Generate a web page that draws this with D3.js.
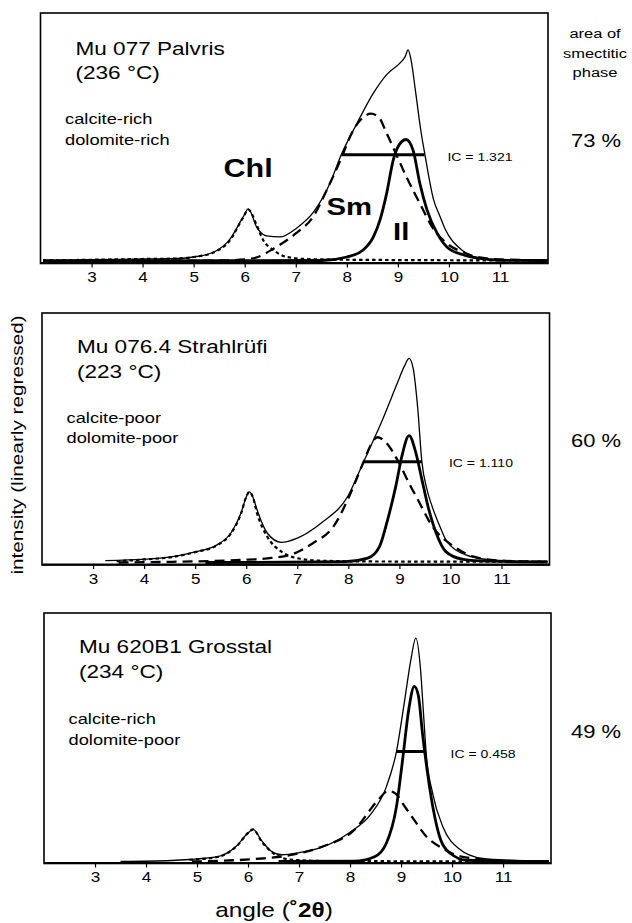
<!DOCTYPE html>
<html>
<head>
<meta charset="utf-8">
<script src="https://cdn.jsdelivr.net/npm/d3@7"></script>
<style>
  body { margin: 0; background: #fff; }
  svg { display: block; font-family: "Liberation Sans", Arial, sans-serif; }
</style>
</head>
<body>
<svg id="chart" width="632" height="923"></svg>
<script>
// ---- data ----
const angleTicks = [3, 4, 5, 6, 7, 8, 9, 10, 11];
const samples = ["Mu 077 Palvris", "Mu 076.4 Strahlrüfi", "Mu 620B1 Grosstal"];
const temps = ["(236 °C)", "(223 °C)", "(234 °C)"];
const calcite = ["calcite-rich", "calcite-poor", "calcite-rich"];
const dolomite = ["dolomite-rich", "dolomite-poor", "dolomite-poor"];
const icValues = ["1.321", "1.110", "0.458"];
const smectiteArea = ["73 %", "60 %", "49 %"];
// [start angle, end angle, intensity] of the half-height bar
const fwhmBars = [[7.89, 9.52, 43.4], [8.3, 9.44, 41], [8.91, 9.49, 44.7]];

// [angle °2θ, intensity] — measured pattern and fitted peaks
const measured077 = [[2.05,1.3],[3,1.5],[4,1.8],[4.7,2],[5.0,2.6],[5.4,4.6],[5.7,9.4],[5.97,18.6],[6.07,21.8],[6.24,14.3],[6.43,11],[6.69,10.6],[7.02,14.2],[7.35,20.6],[7.67,32],[7.89,43.4],[8.2,56],[8.52,68],[8.78,75.4],[9.04,80],[9.14,82.5],[9.2,85.3],[9.26,81],[9.35,68],[9.45,53],[9.53,43.4],[9.7,25.4],[9.82,19],[9.92,14],[10.25,5.4],[10.5,2.6],[10.8,1.6],[11.2,1.3],[11.93,1.2]];
const chl077 = [[2.05,1.2],[3,1.5],[4,1.8],[4.7,2],[5.0,2.6],[5.4,4.5],[5.7,9],[5.97,18.4],[6.07,21.5],[6.24,15],[6.36,9.4],[6.56,5.4],[6.82,2.6],[7.2,1.8],[8,1.5],[11.93,1.2]];
const sm077 = [[2.05,1.0],[5.5,1.2],[6.0,1.6],[6.26,2.6],[6.57,6],[7.0,12],[7.35,19],[7.6,29],[7.89,42],[8.12,53],[8.3,58],[8.47,59.8],[8.62,58.5],[8.78,52],[8.98,43],[9.18,34],[9.43,24],[9.69,14],[9.96,8],[10.29,4.4],[10.55,2.6],[11,1.6],[11.93,1.3]];
const il077 = [[2.05,1.0],[7.5,1.2],[8.0,2.6],[8.32,5.4],[8.52,10.6],[8.65,17.4],[8.78,28],[8.91,41.4],[9.0,46.5],[9.16,49.5],[9.3,45],[9.43,32],[9.57,21.4],[9.77,12],[9.96,6.6],[10.29,3.4],[10.6,2],[11.0,1.3],[11.93,1.2]];

const measured076 = [[3.24,1.7],[4.02,2.3],[4.56,3.3],[5.02,5.3],[5.43,8],[5.7,12.7],[5.9,20.7],[6.0,27],[6.06,29],[6.13,27],[6.21,22],[6.41,12.7],[6.69,9],[7.0,10.7],[7.47,16.7],[7.99,27.3],[8.3,41],[8.65,56.7],[8.97,72.7],[9.1,79],[9.19,82],[9.27,78],[9.36,62],[9.44,41],[9.54,30],[9.64,23.3],[9.8,15],[9.91,10],[10.3,4],[10.78,2],[11.3,1.5],[11.9,1.3]];
const chl076 = [[3.46,1.5],[4.02,2.2],[4.56,3.2],[5.02,5.2],[5.43,7.8],[5.7,12.5],[5.9,20.5],[6.0,27],[6.06,29],[6.13,27],[6.21,20.7],[6.41,11.3],[6.69,5.3],[7.0,2.7],[7.47,1.7],[8.5,1.4],[11.9,1.3]];
const sm076 = [[3.5,1.0],[4.3,1.2],[5.9,2],[6.5,2.8],[6.92,4.4],[7.31,8.7],[7.71,15.3],[7.99,26],[8.3,41],[8.45,48],[8.57,50.7],[8.72,49],[8.98,41],[9.2,32],[9.36,26],[9.64,15.5],[10.07,7.3],[10.46,3.3],[11,1.7],[11.9,1.3]];
const il076 = [[5.2,1.0],[7.94,1.3],[8.38,2.7],[8.61,7.3],[8.77,18],[8.93,31.3],[9.05,43.3],[9.19,51.3],[9.32,44.7],[9.44,34],[9.56,23.3],[9.72,12.7],[9.91,5.3],[10.23,2.3],[10.6,1.6],[11.9,1.2]];

const measured620 = [[3.5,0.8],[4.5,1.2],[4.85,1.6],[5.4,2.7],[5.79,7.3],[5.99,12],[6.1,13.6],[6.27,9],[6.45,5],[6.66,3.5],[7.0,4.3],[7.45,6.5],[8.0,12.5],[8.4,19.5],[8.71,30.5],[8.91,44.7],[9.07,65],[9.19,81],[9.29,90],[9.38,78],[9.44,60],[9.49,44.7],[9.62,28],[9.82,14.7],[10.13,6],[10.6,2],[11.2,1.2],[11.9,0.8]];
const chl620 = [[4.85,1.5],[5.4,2.6],[5.79,7.2],[5.99,12],[6.1,13.6],[6.27,8.7],[6.5,4],[6.82,1.6],[7.5,1],[11.9,0.8]];
const sm620 = [[4.9,0.8],[6.27,2],[6.82,3.3],[7.45,6.7],[8.08,13.3],[8.55,25.3],[8.75,29],[8.9,27.8],[9.03,24],[9.26,17.3],[9.5,10.7],[9.82,6],[10.13,3],[10.45,2],[11.3,0.9],[11.9,0.8]];
const il620 = [[6.6,0.8],[8.08,0.9],[8.48,2.7],[8.71,8],[8.91,22.7],[9.03,41.3],[9.15,61.3],[9.26,70.7],[9.34,67],[9.42,52],[9.52,36],[9.62,23],[9.78,9.3],[9.97,4],[10.29,1.3],[11.9,0.8]];

const measured = [measured077, measured076, measured620];
const chlorite = [chl077, chl076, chl620];
const smectite = [sm077, sm076, sm620];
const illite = [il077, il076, il620];

// ---- layout ----
const stretch = 1.22;   // the printed font is wider than Arial
const panels = [
  {left: 40.5, top: 13, w: 507.5, h: 250.5},
  {left: 42, top: 313, w: 507.5, h: 252},
  {left: 44, top: 613, w: 507, h: 250.5}
];
const textY = [
  {mu: 42, temp: 66, cal: 110.5, dol: 132, ic: 147.7, pct: 133.5},
  {mu: 40.4, temp: 65, cal: 110, dol: 130, ic: 154, pct: 133.5},
  {mu: 40.4, temp: 65, cal: 110.5, dol: 132, ic: 144.5, pct: 125}
];

const svg = d3.select("#chart");

function label(g, x, y, str, size, anchor = "start", weight = "normal") {
  return g.append("text")
    .attr("transform", `translate(${x},${y}) scale(${stretch},1)`)
    .attr("font-size", size)
    .attr("font-weight", weight)
    .attr("text-anchor", anchor)
    .attr("fill", "#000")
    .text(str);
}

const styles = [
  {data: chlorite, width: 2.2, dash: "3.5,3"},
  {data: smectite, width: 2.3, dash: "10,6"},
  {data: illite, width: 2.8, dash: null},
  {data: measured, width: 1.3, dash: null}
];

panels.forEach((p, i) => {
  const g = svg.append("g").attr("transform", `translate(${p.left},${p.top})`);

  const x = d3.scaleLinear().domain([2, 11.94]).range([0, p.w]);
  const y = d3.scaleLinear().domain([0, 100]).range([p.h, 0]);

  const line = d3.line()
    .curve(d3.curveMonotoneX)
    .x(d => x(d[0]))
    .y(d => y(d[1]));

  styles.forEach(s => {
    g.append("path")
      .datum(s.data[i])
      .attr("fill", "none")
      .attr("stroke", "#000")
      .attr("stroke-width", s.width)
      .attr("stroke-dasharray", s.dash)
      .attr("stroke-linejoin", "round")
      .attr("d", line);
  });

  // half-height width bar
  const b = fwhmBars[i];
  g.append("line")
    .attr("x1", x(b[0])).attr("x2", x(b[1]))
    .attr("y1", y(b[2])).attr("y2", y(b[2]))
    .attr("stroke", "#000").attr("stroke-width", 3);

  // frame
  g.append("rect")
    .attr("width", p.w).attr("height", p.h)
    .attr("fill", "none").attr("stroke", "#000").attr("stroke-width", 1.6);
  g.append("line")
    .attr("x1", 0).attr("x2", p.w).attr("y1", p.h - 0.5).attr("y2", p.h - 0.5)
    .attr("stroke", "#000").attr("stroke-width", 2.2);

  // x axis
  const ax = g.append("g")
    .attr("transform", `translate(0,${p.h})`)
    .call(d3.axisBottom(x).tickValues(angleTicks).tickSize(4).tickSizeOuter(0).tickPadding(5));
  ax.select(".domain").remove();
  ax.selectAll(".tick line").attr("stroke", "#000").attr("stroke-width", 1.2);
  ax.selectAll(".tick text")
    .attr("font-family", "Liberation Sans, Arial, sans-serif")
    .attr("font-size", 14)
    .attr("fill", "#000")
    .attr("transform", `scale(${stretch},1)`);

  // labels inside the panel
  const t = textY[i];
  label(g, 35, t.mu, samples[i], 18.5);
  label(g, 35, t.temp, temps[i], 18.5);
  label(g, 24.5, t.cal, calcite[i], 15);
  label(g, 24.5, t.dol, dolomite[i], 15);
  label(g, x(9.97), t.ic, "IC = " + icValues[i], 11.5);

  // smectite area on the right
  label(svg, 596, p.top + t.pct, smectiteArea[i], 18, "middle");
});

// peak names in the first panel
{
  const p = panels[0];
  const g = svg.append("g").attr("transform", `translate(${p.left},${p.top})`);
  label(g, 183, 164, "Chl", 25, "start", "bold");
  label(g, 286, 202, "Sm", 24, "start", "bold");
  label(g, 352.5, 227, "Il", 24, "start", "bold");
}

// column header on the right
label(svg, 595, 37.5, "area of", 13.5, "middle");
label(svg, 595, 57.5, "smectitic", 13.5, "middle");
label(svg, 595, 77, "phase", 13.5, "middle");

// axis titles
svg.append("text")
  .attr("transform", `translate(22.5,445) rotate(-90) scale(${stretch},1)`)
  .attr("font-size", 17)
  .attr("text-anchor", "middle")
  .text("intensity (linearly regressed)");

const xt = svg.append("text")
  .attr("transform", `translate(274,917) scale(${stretch},1)`)
  .attr("font-size", 20)
  .attr("text-anchor", "middle");
xt.append("tspan").text("angle (");
xt.append("tspan").attr("font-weight", "bold").text("˚2θ");
xt.append("tspan").text(")");
</script>
</body>
</html>
